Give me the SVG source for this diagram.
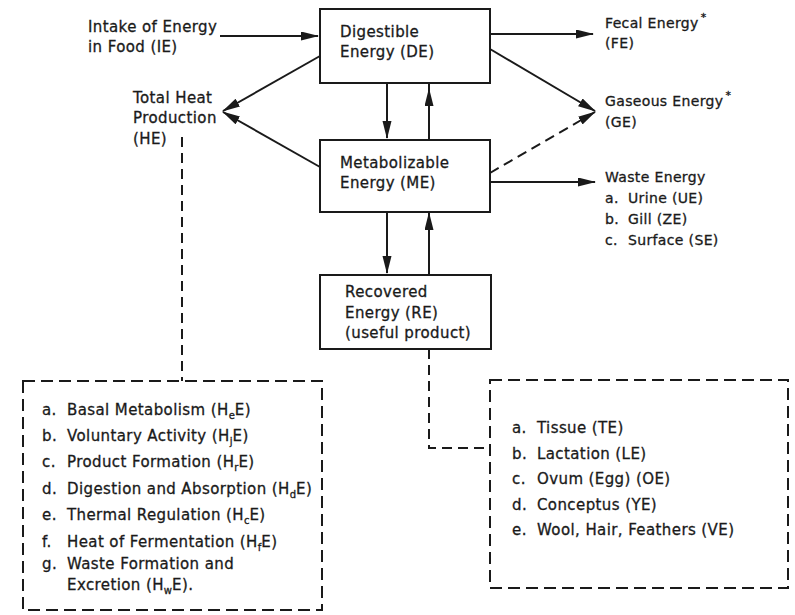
<svg xmlns="http://www.w3.org/2000/svg" width="795" height="615" viewBox="0 0 795 615">
<style>
.t{font-family:"DejaVu Sans","Liberation Sans",sans-serif;font-size:15px;letter-spacing:0.4px;fill:#1a1a1a;stroke:#1a1a1a;stroke-width:0.3px}
.r{font-size:14px;letter-spacing:0.35px}
.sub{font-size:10px;letter-spacing:0}
.sup{font-size:11px}
.box{fill:#fff;stroke:#1a1a1a;stroke-width:2}
.dbox{fill:none;stroke:#1a1a1a;stroke-width:2;stroke-dasharray:12 6}
.c{stroke:#1a1a1a;stroke-width:2;fill:none}
.dash{stroke-dasharray:10 6}
</style>
<defs>
<marker id="ah" markerUnits="userSpaceOnUse" markerWidth="20" markerHeight="10" refX="17" refY="4.5" orient="auto">
<path d="M0,0 L18,4.5 L0,9 z" fill="#1a1a1a"/>
</marker>
</defs>
<rect width="795" height="615" fill="#fff"/>

<g id="connectors">
<line class="c" x1="220" y1="36" x2="318" y2="36" marker-end="url(#ah)"/>
<line class="c" x1="320" y1="56" x2="223" y2="111" marker-end="url(#ah)"/>
<line class="c" x1="320" y1="167" x2="223" y2="112" marker-end="url(#ah)"/>
<line class="c" x1="490" y1="34" x2="593" y2="34" marker-end="url(#ah)"/>
<line class="c" x1="490" y1="49" x2="595" y2="111" marker-end="url(#ah)"/>
<line class="c dash" x1="490" y1="173" x2="595" y2="112" marker-end="url(#ah)"/>
<line class="c" x1="490" y1="182" x2="595" y2="182" marker-end="url(#ah)"/>
<line class="c" x1="387" y1="83" x2="387" y2="138" marker-end="url(#ah)"/>
<polyline class="c" points="429,140 429,89 429,83" marker-mid="url(#ah)"/>
<line class="c" x1="387" y1="212" x2="387" y2="273" marker-end="url(#ah)"/>
<line class="c" x1="429" y1="275" x2="429" y2="213" marker-end="url(#ah)"/>
<line class="c dash" x1="182" y1="137" x2="182" y2="381"/>
<polyline class="c dash" points="429,349 429,448 490,448"/>
</g>

<g id="intake">
<text class="t" x="88" y="32">Intake of Energy</text>
<text class="t" x="88" y="52">in Food (IE)</text>
</g>

<g id="de">
<rect class="box" x="320" y="9" width="170" height="74"/>
<text class="t" x="340" y="37">Digestible</text>
<text class="t" x="340" y="57">Energy (DE)</text>
</g>

<g id="me">
<rect class="box" x="320" y="140" width="170" height="72"/>
<text class="t" x="340" y="168">Metabolizable</text>
<text class="t" x="340" y="188">Energy (ME)</text>
</g>

<g id="re">
<rect class="box" x="320" y="275" width="171" height="74"/>
<text class="t" x="345" y="297">Recovered</text>
<text class="t" x="345" y="318">Energy (RE)</text>
<text class="t" x="345" y="338">(useful product)</text>
</g>

<g id="he">
<text class="t" x="133" y="103">Total Heat</text>
<text class="t" x="133" y="123">Production</text>
<text class="t" x="133" y="144">(HE)</text>
</g>

<g id="fe">
<text class="t r" x="605" y="28">Fecal Energy<tspan class="sup" dx="2" dy="-7">*</tspan></text>
<text class="t r" x="605" y="48">(FE)</text>
</g>

<g id="ge">
<text class="t r" x="605" y="106">Gaseous Energy<tspan class="sup" dx="2" dy="-7">*</tspan></text>
<text class="t r" x="605" y="127">(GE)</text>
</g>

<g id="waste">
<text class="t r" x="605" y="182">Waste Energy</text>
<text class="t r" x="605" y="203">a.<tspan x="628">Urine (UE)</tspan></text>
<text class="t r" x="605" y="224">b.<tspan x="628">Gill (ZE)</tspan></text>
<text class="t r" x="605" y="245">c.<tspan x="628">Surface (SE)</tspan></text>
</g>

<g id="heat-list">
<rect class="dbox" x="23" y="381" width="299" height="229"/>
<text class="t" x="42" y="415">a.<tspan x="67">Basal Metabolism (H</tspan><tspan class="sub" dy="4">e</tspan><tspan dy="-4">E)</tspan></text>
<text class="t" x="42" y="441">b.<tspan x="67">Voluntary Activity (H</tspan><tspan class="sub" dy="4">j</tspan><tspan dy="-4">E)</tspan></text>
<text class="t" x="42" y="467">c.<tspan x="67">Product Formation (H</tspan><tspan class="sub" dy="4">r</tspan><tspan dy="-4">E)</tspan></text>
<text class="t" x="42" y="494">d.<tspan x="67">Digestion and Absorption (H</tspan><tspan class="sub" dy="4">d</tspan><tspan dy="-4">E)</tspan></text>
<text class="t" x="42" y="520">e.<tspan x="67">Thermal Regulation (H</tspan><tspan class="sub" dy="4">c</tspan><tspan dy="-4">E)</tspan></text>
<text class="t" x="42" y="547">f.<tspan x="67">Heat of Fermentation (H</tspan><tspan class="sub" dy="4">f</tspan><tspan dy="-4">E)</tspan></text>
<text class="t" x="42" y="569">g.<tspan x="67">Waste Formation and</tspan></text>
<text class="t" x="67" y="590">Excretion (H<tspan class="sub" dy="4">w</tspan><tspan dy="-4">E).</tspan></text>
</g>

<g id="recovered-list">
<rect class="dbox" x="490" y="380" width="298" height="208"/>
<text class="t" x="512" y="433">a.<tspan x="537">Tissue (TE)</tspan></text>
<text class="t" x="512" y="459">b.<tspan x="537">Lactation (LE)</tspan></text>
<text class="t" x="512" y="484">c.<tspan x="537">Ovum (Egg) (OE)</tspan></text>
<text class="t" x="512" y="510">d.<tspan x="537">Conceptus (YE)</tspan></text>
<text class="t" x="512" y="535">e.<tspan x="537">Wool, Hair, Feathers (VE)</tspan></text>
</g>
</svg>
